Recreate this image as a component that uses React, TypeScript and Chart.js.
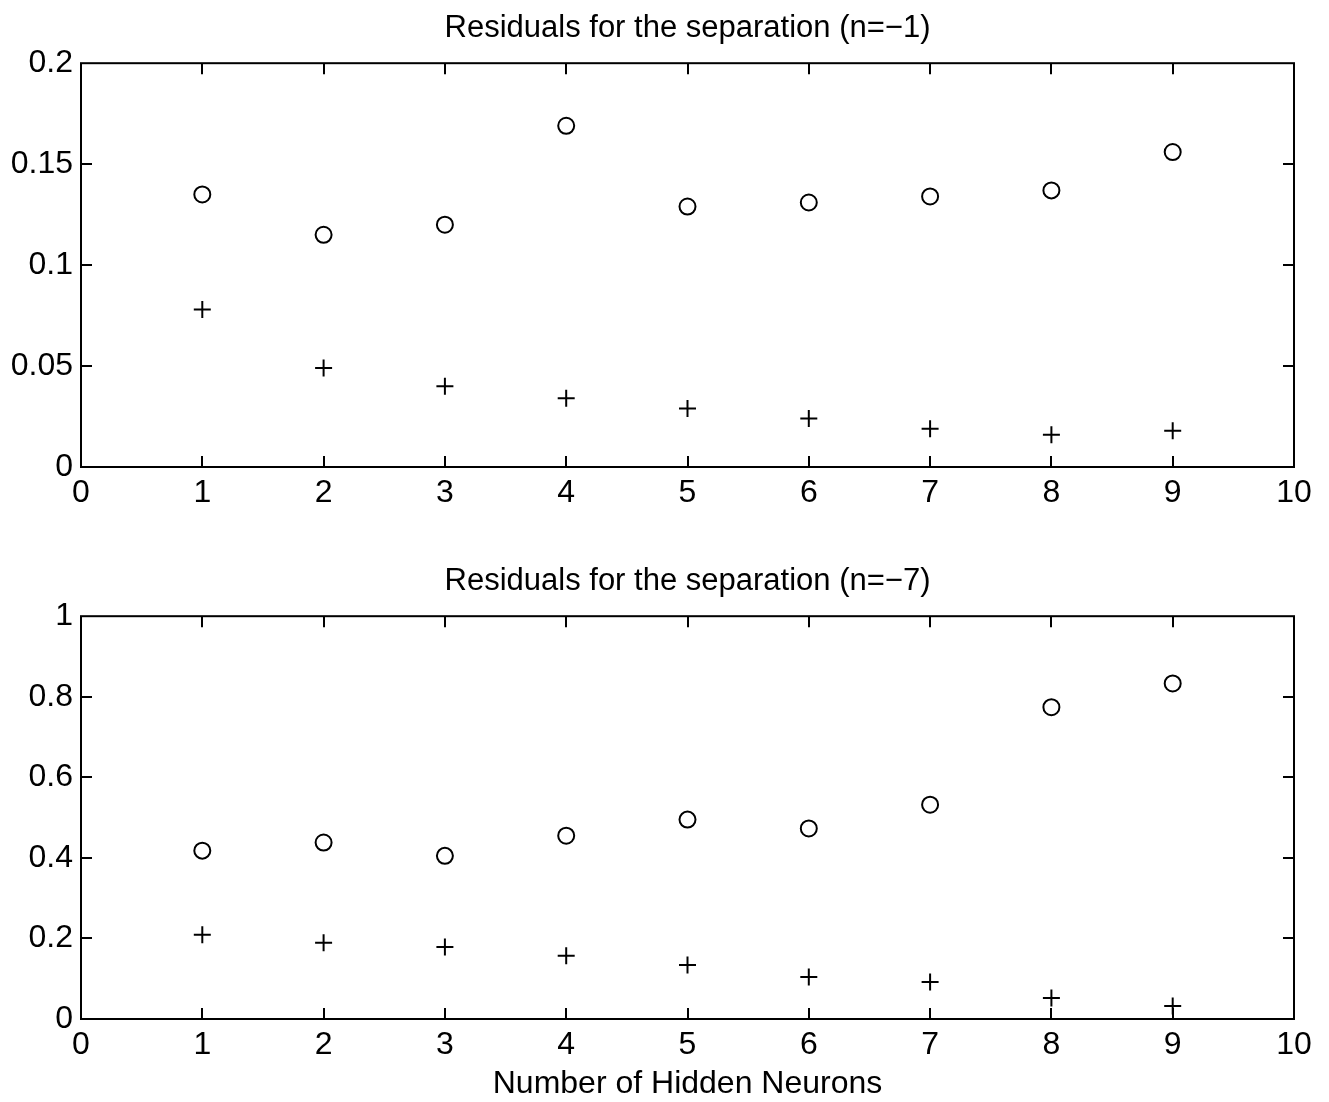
import React, { useEffect, useRef } from "react";
import { Chart, registerables } from "chart.js";

Chart.register(...registerables);

// ---- data ----
const hiddenNeurons = [1, 2, 3, 4, 5, 6, 7, 8, 9];
const topCircles = [0.135, 0.115, 0.12, 0.169, 0.129, 0.131, 0.134, 0.137, 0.156];
const topPluses = [0.078, 0.049, 0.04, 0.034, 0.029, 0.024, 0.019, 0.016, 0.018];
const bottomCircles = [0.418, 0.438, 0.405, 0.455, 0.495, 0.473, 0.532, 0.774, 0.833];
const bottomPluses = [0.209, 0.189, 0.179, 0.157, 0.134, 0.104, 0.092, 0.052, 0.032];
const xTickValues = [0, 1, 2, 3, 4, 5, 6, 7, 8, 9, 10];
const topYTickValues = [0, 0.05, 0.1, 0.15, 0.2];
const bottomYTickValues = [0, 0.2, 0.4, 0.6, 0.8, 1];
const topTitle = "Residuals for the separation (n=\u22121)";
const bottomTitle = "Residuals for the separation (n=\u22127)";
const xAxisTitle = "Number of Hidden Neurons";

const FONT = "'Liberation Sans', Arial, Helvetica, sans-serif";

const framePlugin = {
  id: "matlabFrame",
  afterDatasetsDraw(chart: any) {
    const { ctx, chartArea } = chart;
    const { left, right, top, bottom } = chartArea;
    const xs = chart.scales.x;
    const ys = chart.scales.y;
    const L = 11;
    ctx.save();
    ctx.strokeStyle = "#000";
    ctx.lineWidth = 2;
    ctx.beginPath();
    for (const t of xs.ticks) {
      const px = Math.round(xs.getPixelForValue(t.value));
      if (Math.abs(px - left) < 2 || Math.abs(px - right) < 2) continue;
      ctx.moveTo(px, bottom);
      ctx.lineTo(px, bottom - L);
      ctx.moveTo(px, top);
      ctx.lineTo(px, top + L);
    }
    for (const t of ys.ticks) {
      const py = Math.round(ys.getPixelForValue(t.value));
      if (Math.abs(py - top) < 2 || Math.abs(py - bottom) < 2) continue;
      ctx.moveTo(left, py);
      ctx.lineTo(left + L, py);
      ctx.moveTo(right, py);
      ctx.lineTo(right - L, py);
    }
    ctx.stroke();
    ctx.strokeRect(left, top, right - left, bottom - top);
    ctx.restore();
  },
};

type PanelProps = {
  top: number;
  height: number;
  title: string;
  circles: number[];
  pluses: number[];
  yTicks: number[];
  yMax: number;
  showXTitle: boolean;
};

function Panel({ top, height, title, circles, pluses, yTicks, yMax, showXTitle }: PanelProps) {
  const ref = useRef<HTMLCanvasElement | null>(null);

  useEffect(() => {
    if (!ref.current) return;
    const chart = new Chart(ref.current, {
      type: "scatter",
      data: {
        datasets: [
          {
            label: "circles",
            data: hiddenNeurons.map((x, i) => ({ x, y: circles[i] })),
            pointStyle: "circle",
            pointRadius: 8,
            pointBorderWidth: 2,
            pointBorderColor: "#000",
            pointBackgroundColor: "rgba(0,0,0,0)",
            showLine: false,
          },
          {
            label: "pluses",
            data: hiddenNeurons.map((x, i) => ({ x, y: pluses[i] })),
            pointStyle: "cross",
            pointRadius: 8.5,
            pointBorderWidth: 2,
            pointBorderColor: "#000",
            pointBackgroundColor: "#000",
            showLine: false,
          },
        ],
      },
      options: {
        animation: false,
        responsive: false,
        events: [],
        layout: { padding: { left: 0, right: 35, top: 0, bottom: 0 } },
        plugins: {
          legend: { display: false },
          tooltip: { enabled: false },
          title: {
            display: true,
            text: title,
            fullSize: false,
            color: "#000",
            font: { family: FONT, size: 31, weight: "normal", lineHeight: 1.2 },
            padding: { top: 10, bottom: 16 },
          },
        },
        scales: {
          x: {
            type: "linear",
            min: 0,
            max: 10,
            afterBuildTicks: (s: any) => {
              s.ticks = xTickValues.map((v) => ({ value: v }));
            },
            afterFit: (s: any) => {
              s.height = 83;
            },
            grid: { display: false, drawTicks: false },
            border: { display: false },
            ticks: {
              color: "#000",
              font: { family: FONT, size: 32 },
              padding: 7,
              maxRotation: 0,
              autoSkip: false,
              callback: (v: any) => String(v),
            },
            title: {
              display: showXTitle,
              text: xAxisTitle,
              color: "#000",
              font: { family: FONT, size: 32, lineHeight: 1.1 },
              padding: { top: 0, bottom: 0 },
            },
          },
          y: {
            type: "linear",
            min: 0,
            max: yMax,
            afterBuildTicks: (s: any) => {
              s.ticks = yTicks.map((v) => ({ value: v }));
            },
            afterFit: (s: any) => {
              s.width = 81;
            },
            grid: { display: false, drawTicks: false },
            border: { display: false },
            ticks: {
              color: "#000",
              font: { family: FONT, size: 32 },
              padding: 8,
              autoSkip: false,
              callback: (v: any) => String(v),
            },
          },
        },
      },
      plugins: [framePlugin],
    } as any);
    return () => chart.destroy();
  }, []);

  return (
    <canvas
      ref={ref}
      width={1329}
      height={height}
      style={{ position: "absolute", left: 0, top, width: 1329, height }}
    />
  );
}

export default function App() {
  return (
    <div
      style={{
        position: "absolute",
        left: 0,
        top: 0,
        width: 1329,
        height: 1102,
        background: "#fff",
        overflow: "hidden",
      }}
    >
      <Panel
        top={0}
        height={550}
        title={topTitle}
        circles={topCircles}
        pluses={topPluses}
        yTicks={topYTickValues}
        yMax={0.2}
        showXTitle={false}
      />
      <Panel
        top={553}
        height={549}
        title={bottomTitle}
        circles={bottomCircles}
        pluses={bottomPluses}
        yTicks={bottomYTickValues}
        yMax={1}
        showXTitle={true}
      />
    </div>
  );
}
